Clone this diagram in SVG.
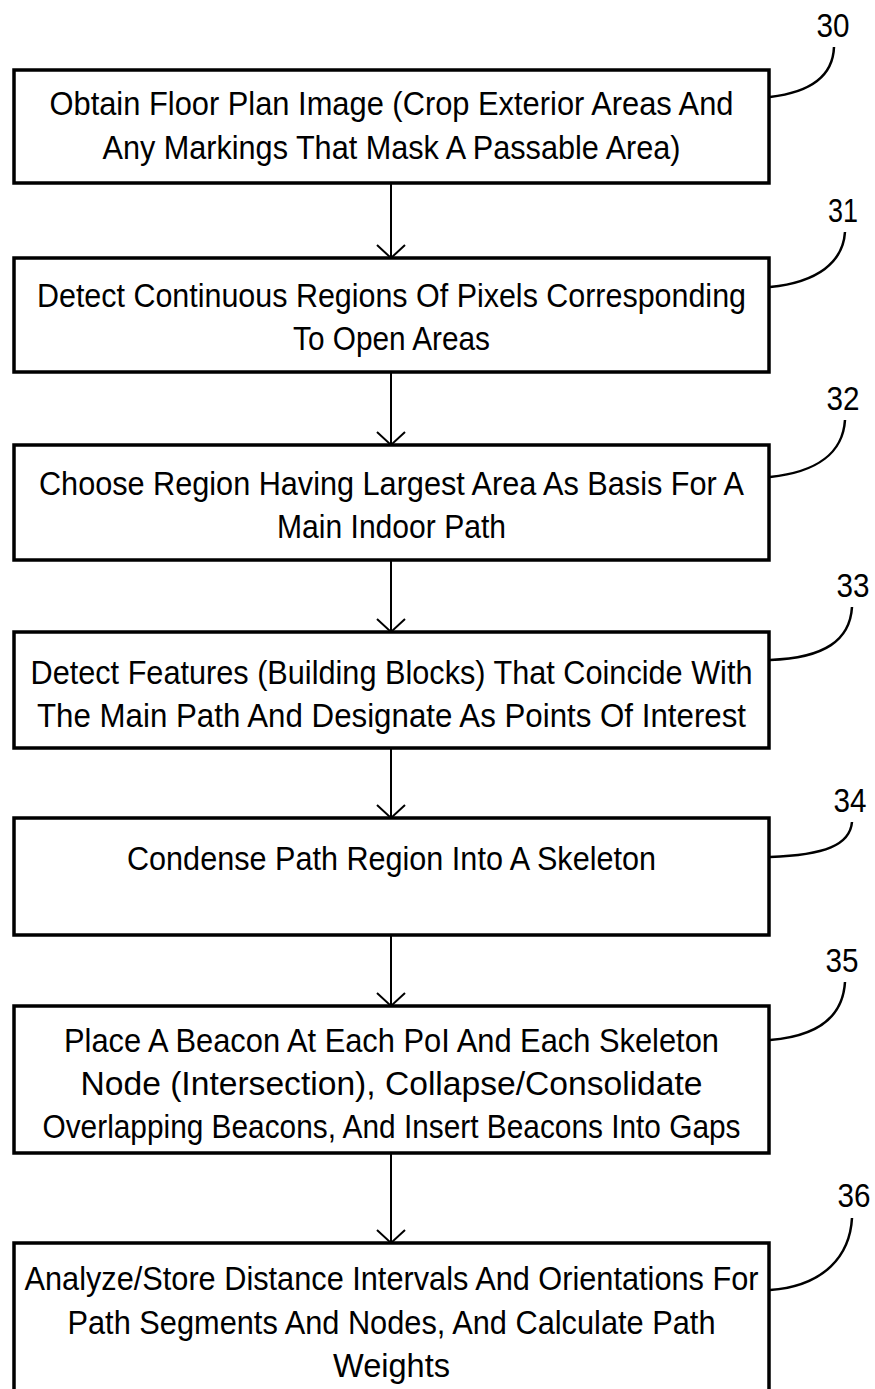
<svg xmlns="http://www.w3.org/2000/svg" width="875" height="1389" viewBox="0 0 875 1389">
<style>
.box{fill:#fff;stroke:#000;stroke-width:3.5}
.t{font-family:"Liberation Sans Narrow","Liberation Sans",Arial,sans-serif;font-size:33px;fill:#000;text-anchor:middle}
.lbl{font-family:"Liberation Sans Narrow","Liberation Sans",Arial,sans-serif;font-size:34px;fill:#000;text-anchor:middle}
.con{fill:none;stroke:#000;stroke-width:2}
.lead{fill:none;stroke:#000;stroke-width:2.5}
</style>
<g id="connectors">
<path class="con" d="M391,183V258M377,245L391,258L405,245"/>
<path class="con" d="M391,372V445M377,432L391,445L405,432"/>
<path class="con" d="M391,560V632M377,619L391,632L405,619"/>
<path class="con" d="M391,748V818M377,805L391,818L405,805"/>
<path class="con" d="M391,935V1006M377,993L391,1006L405,993"/>
<path class="con" d="M391,1153V1243M377,1230L391,1243L405,1230"/>
</g>
<g id="n30">
<rect class="box" x="14" y="70" width="755" height="113"/>
<text class="t" x="391.5" y="115" textLength="684" lengthAdjust="spacingAndGlyphs">Obtain Floor Plan Image (Crop Exterior Areas And</text>
<text class="t" x="391.5" y="159" textLength="578" lengthAdjust="spacingAndGlyphs">Any Markings That Mask A Passable Area)</text>
<path class="lead" d="M770,97C812,92 833,75 834,47"/>
<text class="lbl" x="833" y="37" textLength="33" lengthAdjust="spacingAndGlyphs">30</text>
</g>
<g id="n31">
<rect class="box" x="14" y="258" width="755" height="114"/>
<text class="t" x="391.5" y="307" textLength="709" lengthAdjust="spacingAndGlyphs">Detect Continuous Regions Of Pixels Corresponding</text>
<text class="t" x="391.5" y="350" textLength="197" lengthAdjust="spacingAndGlyphs">To Open Areas</text>
<path class="lead" d="M770,287C818,282 843,262 845,232"/>
<text class="lbl" x="843" y="222" textLength="30" lengthAdjust="spacingAndGlyphs">31</text>
</g>
<g id="n32">
<rect class="box" x="14" y="445" width="755" height="115"/>
<text class="t" x="391.5" y="495" textLength="705" lengthAdjust="spacingAndGlyphs">Choose Region Having Largest Area As Basis For A</text>
<text class="t" x="391.5" y="538" textLength="229" lengthAdjust="spacingAndGlyphs">Main Indoor Path</text>
<path class="lead" d="M770,477C818,472 843,452 845,420"/>
<text class="lbl" x="843" y="410" textLength="33" lengthAdjust="spacingAndGlyphs">32</text>
</g>
<g id="n33">
<rect class="box" x="14" y="632" width="755" height="116"/>
<text class="t" x="391.5" y="684" textLength="722" lengthAdjust="spacingAndGlyphs">Detect Features (Building Blocks) That Coincide With</text>
<text class="t" x="391.5" y="727" textLength="709" lengthAdjust="spacingAndGlyphs">The Main Path And Designate As Points Of Interest</text>
<path class="lead" d="M770,660C825,658 850,640 852,607"/>
<text class="lbl" x="853" y="597" textLength="33" lengthAdjust="spacingAndGlyphs">33</text>
</g>
<g id="n34">
<rect class="box" x="14" y="818" width="755" height="117"/>
<text class="t" x="391.5" y="870" textLength="529" lengthAdjust="spacingAndGlyphs">Condense Path Region Into A Skeleton</text>
<path class="lead" d="M770,857C825,855 850,845 852,822"/>
<text class="lbl" x="850" y="812" textLength="33" lengthAdjust="spacingAndGlyphs">34</text>
</g>
<g id="n35">
<rect class="box" x="14" y="1006" width="755" height="147"/>
<text class="t" x="391.5" y="1052" textLength="655" lengthAdjust="spacingAndGlyphs">Place A Beacon At Each PoI And Each Skeleton</text>
<text class="t" x="391.5" y="1095" textLength="622" lengthAdjust="spacingAndGlyphs">Node (Intersection), Collapse/Consolidate</text>
<text class="t" x="391.5" y="1138" textLength="698" lengthAdjust="spacingAndGlyphs">Overlapping Beacons, And Insert Beacons Into Gaps</text>
<path class="lead" d="M770,1040C820,1036 843,1015 845,982"/>
<text class="lbl" x="842" y="972" textLength="33" lengthAdjust="spacingAndGlyphs">35</text>
</g>
<g id="n36">
<rect class="box" x="14" y="1243" width="755" height="160"/>
<text class="t" x="391.5" y="1290" textLength="734" lengthAdjust="spacingAndGlyphs">Analyze/Store Distance Intervals And Orientations For</text>
<text class="t" x="391.5" y="1334" textLength="648" lengthAdjust="spacingAndGlyphs">Path Segments And Nodes, And Calculate Path</text>
<text class="t" x="391.5" y="1377" textLength="117" lengthAdjust="spacingAndGlyphs">Weights</text>
<path class="lead" d="M770,1290C825,1286 850,1255 852,1218"/>
<text class="lbl" x="854" y="1207" textLength="33" lengthAdjust="spacingAndGlyphs">36</text>
</g>
</svg>
